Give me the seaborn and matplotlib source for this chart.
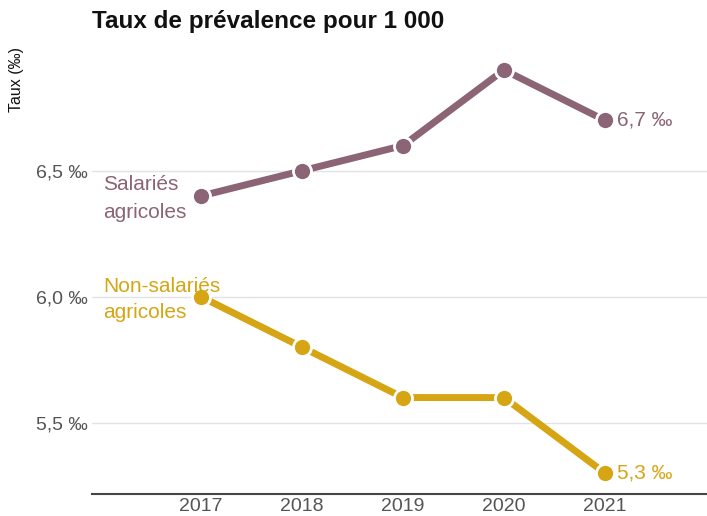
import matplotlib
matplotlib.use('Agg')
import matplotlib.pyplot as plt
import seaborn as sns
import pandas as pd

sns.set_style('white')
plt.rcParams['font.family'] = ['Liberation Sans', 'DejaVu Sans']

years = [2017, 2018, 2019, 2020, 2021]
salaries = [6.4, 6.5, 6.6, 6.9, 6.7]
non_salaries = [6.0, 5.8, 5.6, 5.6, 5.3]
yticks = [5.5, 6.0, 6.5]

col_sal = '#8b6475'
col_non = '#d6a514'

df = pd.DataFrame({
    'Année': years * 2,
    'Taux': salaries + non_salaries,
    'Groupe': ['Salariés agricoles'] * 5 + ['Non-salariés agricoles'] * 5,
})

fig = plt.figure(figsize=(7.07, 5.16), dpi=100)
ax = fig.add_axes([0.130, 0.043, 0.870, 0.880])

sns.lineplot(data=df, x='Année', y='Taux', hue='Groupe',
             palette={'Salariés agricoles': col_sal, 'Non-salariés agricoles': col_non},
             linewidth=5, marker='o', markersize=13, markeredgecolor='white',
             markeredgewidth=2, legend=False, ax=ax)

ax.set_xlim(2015.92, 2022.01)
ax.set_ylim(5.218, 7.02)
ax.set_xticks(years)
ax.set_xticklabels([str(y) for y in years], fontsize=14, color='#555555')
ax.set_yticks(yticks)
ax.set_yticklabels([f'{v:.1f} ‰'.replace('.', ',') for v in yticks], fontsize=14, color='#555555')
ax.tick_params(axis='x', length=0, pad=3)
ax.tick_params(axis='y', length=0, pad=3)
ax.grid(axis='y', color='#e3e3e3', linewidth=1)
ax.set_axisbelow(True)
for s in ['top', 'right', 'left']:
    ax.spines[s].set_visible(False)
ax.spines['bottom'].set_color('#444444')
ax.spines['bottom'].set_linewidth(1.5)
ax.set_xlabel('')
ax.set_ylabel('')

# end labels
ax.annotate(f'{salaries[-1]:.1f} ‰'.replace('.', ','), (years[-1], salaries[-1]),
            xytext=(8.5, 0), textcoords='offset points', va='center', ha='left',
            fontsize=15, color=col_sal)
ax.annotate(f'{non_salaries[-1]:.1f} ‰'.replace('.', ','), (years[-1], non_salaries[-1]),
            xytext=(8.5, 0), textcoords='offset points', va='center', ha='left',
            fontsize=15, color=col_non)

# series labels
ax.text(2016.03, 6.39, 'Salariés\nagricoles', fontsize=15, color=col_sal,
        ha='left', va='center', linespacing=1.58)
ax.text(2016.03, 5.99, 'Non-salariés\nagricoles', fontsize=15, color=col_non,
        ha='left', va='center', linespacing=1.48)

fig.text(0.130, 0.958, 'Taux de prévalence pour 1 000', fontsize=17.5,
         fontweight='bold', ha='left', va='center', color='#111111')
fig.text(0.024, 0.845, 'Taux (‰)', fontsize=11.5, rotation=90, ha='center',
         va='center', color='#111111')

fig.savefig('out.png', dpi=100)
